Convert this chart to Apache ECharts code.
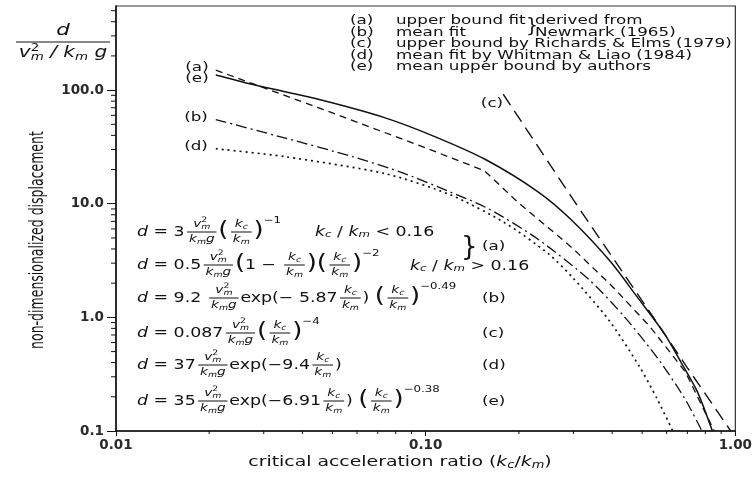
<!DOCTYPE html>
<html>
<head>
<meta charset="utf-8">
<script src="https://cdn.jsdelivr.net/npm/echarts@6/dist/echarts.min.js"></script>
<style>
html, body { margin: 0; padding: 0; background: #fff; }
#main { width: 755px; height: 479px; }
</style>
</head>
<body>
<div id="main"></div>
<script>
// curve (a) upper bound fit, Newmark (1965)
var kcA = [0.021, 0.05, 0.1, 0.155, 0.2, 0.25, 0.3, 0.4, 0.53, 0.69, 0.855];
var dA = [150, 63, 31, 19.5, 10.1, 6.1, 4.0, 1.88, 0.83, 0.33, 0.1];
// curve (b) mean fit, Newmark (1965)
var kcB = [0.021, 0.035, 0.058, 0.083, 0.12, 0.16, 0.23, 0.34, 0.44, 0.56, 0.685, 0.78];
var dB = [55, 38, 26, 19, 12.7, 9.0, 4.9, 2.1, 1.0, 0.44, 0.195, 0.1];
// curve (c) upper bound by Richards & Elms (1979)
var kcC = [0.178, 0.3, 0.5, 0.7, 0.966];
var dC = [92, 10.8, 1.4, 0.36, 0.1];
// curve (d) mean fit by Whitman & Liao (1984)
var kcD = [0.021, 0.035, 0.074, 0.12, 0.18, 0.25, 0.3, 0.39, 0.49, 0.56, 0.628];
var dD = [30.5, 26, 18.4, 12.0, 6.8, 3.6, 2.2, 0.95, 0.37, 0.19, 0.1];
// curve (e) mean upper bound by authors
var kcE = [0.021, 0.027, 0.045, 0.074, 0.107, 0.156, 0.23, 0.294, 0.395, 0.483, 0.59, 0.665, 0.755, 0.843];
var dE = [136, 114, 83, 57, 39, 24.5, 12.8, 7.3, 3.1, 1.5, 0.72, 0.41, 0.22, 0.1];

var legendKeys = ['(a)', '(b)', '(c)', '(d)', '(e)'];
var legendText = ['upper bound fit', 'mean fit', 'upper bound by Richards & Elms (1979)',
	'mean fit by Whitman & Liao (1984)', 'mean upper bound by authors'];

var INK = '#111';
var FAM = '"DejaVu Sans", "Liberation Sans", sans-serif';
var SX = 1.34;   // the scan is stretched sideways
var FSX = 1.24;  // formulas

var chart = echarts.init(document.getElementById('main'));

function pts(k, d) {
	return k.map(function (v, i) { return [v, d[i]]; });
}

function curve(name, k, d, type, width, smooth) {
	return {
		name: name, type: 'line', data: pts(k, d),
		symbol: 'none', smooth: smooth, silent: true,
		lineStyle: { color: INK, width: width, type: type }
	};
}

chart.setOption({
	animation: false,
	grid: { left: 116, right: 18, top: 6, bottom: 48, show: true, borderColor: '#333', borderWidth: 1.2 },
	xAxis: {
		type: 'log', logBase: 10, min: 0.01, max: 1,
		axisLine: { lineStyle: { color: INK, width: 1.5 } },
		axisTick: { length: 5, lineStyle: { color: INK } },
		axisLabel: { formatter: function (v) { return v.toFixed(2); }, fontFamily: 'DejaVu Sans', fontWeight: 'bold', fontSize: 13.5, color: '#2a2a2a', margin: 7 },
		splitLine: { show: false }
	},
	yAxis: {
		type: 'log', logBase: 10, min: 0.1, max: 550,
		axisLine: { lineStyle: { color: INK, width: 1.5 } },
		axisTick: { length: 9, lineStyle: { color: INK } },
		axisLabel: { formatter: function (v) { return v.toFixed(1); }, fontFamily: 'DejaVu Sans', fontWeight: 'bold', fontSize: 13.5, color: '#2a2a2a', margin: 12, showMaxLabel: false },
		splitLine: { show: false }
	},
	series: [
		curve('(a)', kcA, dA, [7, 5], 1.3, false),
		curve('(b)', kcB, dB, [11, 4, 2, 4], 1.3, 0.25),
		curve('(c)', kcC, dC, [13, 7], 1.4, false),
		curve('(d)', kcD, dD, [2, 4], 1.7, 0.25),
		curve('(e)', kcE, dE, 'solid', 1.5, 0.25)
	]
});

// ---- text helpers ----
var meas = document.createElement('canvas').getContext('2d');
function tw(t, size, it) {
	meas.font = (it ? 'italic ' : '') + size + 'px ' + FAM;
	return meas.measureText(t).width;
}
function T(t, size, it, dy, adv) { return { k: 't', t: t, size: size, it: !!it, dy: dy || 0, adv: adv }; }
function FR(num, den) { return { k: 'f', num: num, den: den }; }

function lay(segs, x0, y0, out) {
	var x = x0;
	segs.forEach(function (g) {
		if (g.k === 't') {
			if (out) out.push({
				type: 'text', x: x, y: y0 + g.dy, silent: true,
				style: { text: g.t, font: (g.it ? 'italic ' : '') + g.size + 'px ' + FAM, fill: INK, textAlign: 'left', textVerticalAlign: 'middle' }
			});
			x += g.adv != null ? g.adv : tw(g.t, g.size, g.it);
		} else {
			var wn = lay(g.num, 0, 0, null), wd = lay(g.den, 0, 0, null);
			var w = Math.max(wn, wd) + 3;
			x += 2;
			if (out) {
				lay(g.num, x + (w - wn) / 2, y0 - 7.5, out);
				lay(g.den, x + (w - wd) / 2, y0 + 7.5, out);
				out.push({ type: 'line', silent: true, shape: { x1: x, y1: y0, x2: x + w, y2: y0 }, style: { stroke: INK, lineWidth: 1 } });
			}
			x += w + 1.5;
		}
	});
	return x - x0;
}

function grp(x, y, segs, sx, center) {
	var out = [];
	var w = lay(segs, 0, 0, out);
	return { type: 'group', x: center ? x - w * sx / 2 : x, y: y, scaleX: sx, children: out };
}

function txt(x, y, s, size, align, extra) {
	var el = {
		type: 'text', x: x, y: y, scaleX: SX, silent: true,
		style: { text: s, font: size + 'px ' + FAM, fill: INK, textAlign: align || 'left', textVerticalAlign: 'middle' }
	};
	for (var key in extra) el[key] = extra[key];
	return el;
}

function vk() { return FR([T('v', 11, 1), T('2', 7.5, 0, -4, 0), T('m', 7.5, 1, 3)], [T('k', 11, 1), T('m', 7.5, 1, 3), T('g', 11, 1)]); }
function kk() { return FR([T('k', 11, 1), T('c', 7.5, 1, 3)], [T('k', 11, 1), T('m', 7.5, 1, 3)]); }
function L() { return T('(', 21, 0, -1); }
function R() { return T(')', 21, 0, -1); }
function M(s) { return T(s, 14); }
function SUP(s) { return T(s, 9.5, 0, -11); }
var D = function () { return T('d', 14, 1); };

var rowsY = [232, 265, 298, 333, 365, 401];
var formulas = [
	[D(), M(' = 3'), vk(), L(), kk(), R(), SUP('−1')],
	[D(), M(' = 0.5'), vk(), L(), M('1 − '), kk(), R(), L(), kk(), R(), SUP('−2')],
	[D(), M(' = 9.2 '), vk(), M('exp(− 5.87'), kk(), M(') '), L(), kk(), R(), SUP('−0.49')],
	[D(), M(' = 0.087'), vk(), L(), kk(), R(), SUP('−4')],
	[D(), M(' = 37'), vk(), M('exp(−9.4'), kk(), M(')')],
	[D(), M(' = 35'), vk(), M('exp(−6.91'), kk(), M(') '), L(), kk(), R(), SUP('−0.38')]
];

var g = [];

// legend block
legendKeys.forEach(function (key, i) {
	var y = 21 + i * 11.5;
	g.push(txt(350, y, key, 12.5));
	g.push(txt(396, y, legendText[i], 12.5));
});
g.push(txt(526, 27, '}', 19, 'left', { scaleX: 1 }));
g.push(txt(535, 21, 'derived from', 12.5));
g.push(txt(535, 32.5, 'Newmark (1965)', 12.5));

// curve tags
g.push(txt(197, 68, '(a)', 12.5, 'center'));
g.push(txt(197, 79, '(e)', 12.5, 'center'));
g.push(txt(196, 118, '(b)', 12.5, 'center'));
g.push(txt(196, 147, '(d)', 12.5, 'center'));
g.push(txt(492, 104, '(c)', 12.5, 'center'));

// formulas
formulas.forEach(function (f, i) { g.push(grp(137, rowsY[i], f, FSX)); });
g.push(grp(315, 232, [T('k', 14, 1), T('c', 9.5, 1, 3), M(' / '), T('k', 14, 1), T('m', 9.5, 1, 3), M(' < 0.16')], FSX));
g.push(grp(410, 266, [T('k', 14, 1), T('c', 9.5, 1, 3), M(' / '), T('k', 14, 1), T('m', 9.5, 1, 3), M(' > 0.16')], FSX));
g.push(txt(461, 248, '}', 26, 'left', { scaleX: 1 }));
g.push(txt(482, 247, '(a)', 12.5));
g.push(txt(482, 299, '(b)', 12.5));
g.push(txt(482, 334, '(c)', 12.5));
g.push(txt(482, 366, '(d)', 12.5));
g.push(txt(482, 402, '(e)', 12.5));

// axis titles
g.push(txt(63, 31, 'd', 15, 'center', { style: { text: 'd', font: 'italic 16px ' + FAM, fill: INK, textAlign: 'center', textVerticalAlign: 'middle' } }));
g.push({ type: 'line', silent: true, shape: { x1: 16, y1: 42, x2: 110, y2: 42 }, style: { stroke: INK, lineWidth: 1 } });
g.push(grp(63, 53, [T('v', 15, 1), T('2', 10, 0, -5, 0), T('m', 10, 1, 4), T(' / ', 15, 1), T('k', 15, 1), T('m', 10, 1, 4), T(' g', 15, 1)], SX, true));
g.push({
	type: 'text', x: 38, y: 240, rotation: Math.PI / 2, scaleY: 1.5, silent: true,
	style: { text: 'non-dimensionalized displacement', font: '12.5px ' + FAM, fill: INK, textAlign: 'center', textVerticalAlign: 'middle' }
});
g.push(grp(400, 462, [T('critical acceleration ratio (', 14.5), T('k', 14.5, 1), T('c', 10, 1, 3), T('/', 14.5), T('k', 14.5, 1), T('m', 10, 1, 3), T(')', 14.5)], 1.3, true));

// minor ticks placed through the axes' own scales
var corner = chart.convertToPixel({ gridIndex: 0 }, [0.01, 0.1]);
[0.01, 0.1].forEach(function (base) {
	for (var m = 2; m <= 9; m++) {
		var px = chart.convertToPixel({ gridIndex: 0 }, [m * base, 1])[0];
		g.push({ type: 'line', silent: true, shape: { x1: px, y1: corner[1], x2: px, y2: corner[1] + 3 }, style: { stroke: INK, lineWidth: 1 } });
	}
});
[0.1, 1, 10, 100].forEach(function (base) {
	for (var m = 2; m <= 9; m++) {
		if (m * base > 550) continue;
		var py = chart.convertToPixel({ gridIndex: 0 }, [0.1, m * base])[1];
		g.push({ type: 'line', silent: true, shape: { x1: corner[0] - 5, y1: py, x2: corner[0], y2: py }, style: { stroke: INK, lineWidth: 1 } });
	}
});

chart.setOption({ graphic: { elements: g } });
</script>
</body>
</html>
